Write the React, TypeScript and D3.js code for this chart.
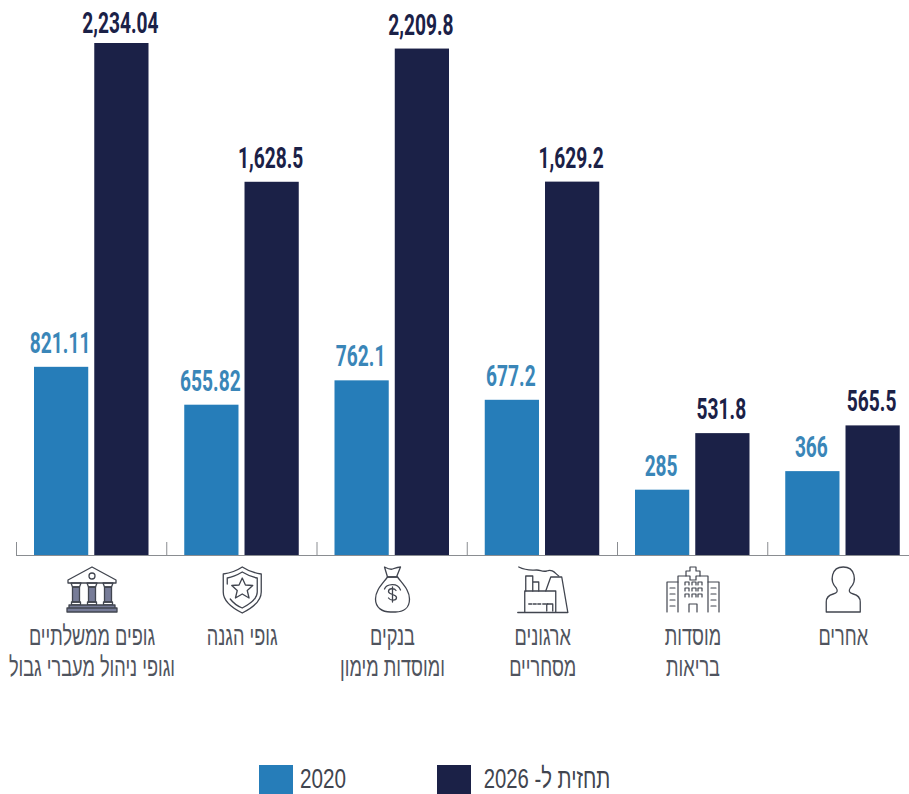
import React from "react";
import * as d3 from "d3";

const categories = ["gov", "defense", "banks", "commercial", "health", "others"];
const labelLines = [
  ["גופים ממשלתיים", "וגופי ניהול מעברי גבול"],
  ["גופי הגנה"],
  ["בנקים", "ומוסדות מימון"],
  ["ארגונים", "מסחריים"],
  ["מוסדות", "בריאות"],
  ["אחרים"],
];
const values2020 = [821.11, 655.82, 762.1, 677.2, 285, 366];
const labels2020 = ["821.11", "655.82", "762.1", "677.2", "285", "366"];
const values2026 = [2234.04, 1628.5, 2209.8, 1629.2, 531.8, 565.5];
const labels2026 = ["2,234.04", "1,628.5", "2,209.8", "1,629.2", "531.8", "565.5"];
const series = ["2020", "2026"];
const legendLabels = ["2020", "תחזית ל- 2026"];

const BLUE = "#267db9";
const NAVY = "#1b2147";
const BLUE_TEXT = "#3a86b8";
const GREY = "#41454f";
const TEXT_GREY = "#50545e";
const ICON_FILL = "#777c98";

const x0 = d3.scaleBand<string>().domain(categories).range([16.5, 918]);
const x1 = d3.scaleBand<string>().domain(series).range([17.5, 132]).paddingInner(0.1);
const y = d3.scaleLinear().domain([0, 2234.04]).range([555, 43]);

const numStyle = { fontFamily: "Roboto, sans-serif", fontWeight: 700, fontSize: 29.5 };
const hebStyle = { fontFamily: "'Liberation Sans', sans-serif", fontWeight: 400, fontSize: 27.5 };

function Sq({ x, y: yy, sx, anchor = "middle", fill, style, children, rtl }: any) {
  return (
    <text
      transform={`translate(${x},${yy}) scale(${sx},1)`}
      textAnchor={anchor}
      fill={fill}
      style={{ ...style, direction: rtl ? "rtl" : "ltr" }}
    >
      {children}
    </text>
  );
}

const iconStroke = { fill: "none", stroke: GREY, strokeWidth: 1.3, strokeLinejoin: "round" as const, strokeLinecap: "round" as const };

function Bank() {
  return (
    <g {...iconStroke}>
      <path d="M0,-23 L24,-10 L24,-7 L-24,-7 L-24,-10 Z" />
      <circle cx={0} cy={-14} r={3} />
      {[-16, 0, 16].map((c) => (
        <path key={c} d={`M${c - 3.5},-3 H${c + 3.5} V12 H${c - 3.5} Z`} fill={ICON_FILL} />
      ))}
      {[-16, 0, 16].map((c) => (
        <path key={c} d={`M${c - 5},-7 H${c + 5} L${c + 3.5},-3 H${c - 3.5} Z M${c - 4.5},12 H${c + 4.5} V15 H${c - 4.5} Z`} />
      ))}
      <path d="M-23,15 H23 V18 H-23 Z M-25,18 H25 V22 H-25 Z" fill={ICON_FILL} />
    </g>
  );
}

function Shield() {
  return (
    <g {...iconStroke}>
      <path d="M0,-23 C6,-19 12,-17 19,-16 V2 C19,11 10,18 0,23 C-10,18 -19,11 -19,2 V-16 C-12,-17 -6,-19 0,-23 Z" />
      <path d="M-15,-6 V-12 C-9,-13 -5,-15 0,-18 C5,-15 9,-13 15,-12 V2 C15,8 8,14 0,18 C-5,16 -9,13 -12,9" />
      <path d="M0,-12 L3.2,-5 L10.5,-4.5 L5,0.5 L6.8,8 L0,4 L-6.8,8 L-5,0.5 L-10.5,-4.5 L-3.2,-5 Z" />
    </g>
  );
}

function Bag() {
  return (
    <g {...iconStroke}>
      <path d="M-8,-23 C-4,-21 -2,-20 0,-21 C3,-22 6,-23 8,-23 L4,-13 H-5 Z" />
      <path d="M-5,-13 C-10,-6 -17,0 -17,9 C-17,18 -10,22 -2,22 H3 C11,22 17,18 17,9 C17,0 10,-6 5,-13" />
      <path d="M-5,-13 H5" />
      <path d="M3.5,0.5 C2,-2 -4,-2 -4,1.5 C-4,5 4,4 4,7.5 C4,11 -2,11 -4,8 M0,-3 V12" />
      <path d="M-8,-1 C-6,-6 5,-8 8,0" />
    </g>
  );
}

function Factory() {
  return (
    <g {...iconStroke}>
      <path d="M-25,22.5 H25" />
      <path d="M-18,22 V1 H13 V22" />
      <path d="M-17,1 V-14 H-10 V1 M-10,-8 H-4 V1" />
      <path d="M3,1 L8,-13 H19 L25,22" />
      <path d="M-24,-23 C-16,-19 -12,-20 -6,-20 C-2,-20 -1,-18 4,-19 C10,-21 12,-17 16,-14" />
      <path d="M-14,14 H-2 M0,14 H5" strokeDasharray="3 1.5" />
      <path d="M4,21 V14 H10 V21" />
    </g>
  );
}

function Hospital() {
  const winX = [-8, -1, 5];
  const winY = [-8, -2, 4];
  return (
    <g {...iconStroke} strokeWidth={1.2}>
      <path d="M-3,-23 H3 V-19 H7 V-14 H3 V-10 H-3 V-14 H-7 V-19 H-3 Z" />
      <path d="M-7,-14 H-15 V22 M7,-14 H15 V22" />
      <path d="M-15,-8 H-26 V22 M15,-8 H26 V22" />
      {winY.map((wy) => winX.map((wx) => <path key={`${wx}${wy}`} d={`M${wx},${wy + 3} V${wy} H${wx + 4} V${wy + 3}`} />))}
      <path d="M-4,22 V14 H4 V22" />
      {[-2, 4, 10, 16].map((wy) => (
        <path key={wy} d={`M-23,${wy} H-18 M18,${wy} H23`} />
      ))}
    </g>
  );
}

function Person() {
  return (
    <g {...iconStroke}>
      <path d="M-7,-2 C-14,-9 -12,-23 0,-23 C12,-23 14,-9 7,-2 C5,1 6,3 10,4 C14,5 17,8 17,12 V22 H-17 V12 C-17,8 -14,5 -10,4 C-6,3 -5,1 -7,-2 Z" />
    </g>
  );
}

const icons = [Bank, Shield, Bag, Factory, Hospital, Person];
const ticks = categories.map((c) => x0(c) as number);

export default function App() {
  return (
    <svg
      width={909}
      height={794}
      viewBox="0 0 909 794"
      style={{ position: "absolute", left: 0, top: 0, background: "#fff", display: "block" }}
    >
      <path d={`M16,555.5 H909`} stroke="#8a8d91" strokeWidth={1} fill="none" />
      {ticks.map((t) => (
        <line key={t} x1={t} x2={t} y1={542} y2={555} stroke="#8a8d91" strokeWidth={1} />
      ))}
      {categories.map((c, i) => {
        const bx = x0(c) as number;
        const a = bx + (x1("2020") as number);
        const b = bx + (x1("2026") as number);
        const w = x1.bandwidth();
        const Icon = icons[i];
        const cx = bx + 75.5;
        return (
          <g key={c}>
            <rect x={a} y={y(values2020[i])} width={w} height={y(0) - y(values2020[i])} fill={BLUE} />
            <rect x={b} y={y(values2026[i])} width={w} height={y(0) - y(values2026[i])} fill={NAVY} />
            <Sq x={a + w / 2 - 1} y={Math.min(y(values2020[i]) - 14, 480)} sx={0.65} fill={BLUE_TEXT} style={numStyle}>
              {labels2020[i]}
            </Sq>
            <Sq x={b + w / 2 - 1} y={Math.max(33, y(values2026[i]) - 14)} sx={0.65} fill={NAVY} style={numStyle}>
              {labels2026[i]}
            </Sq>
            <g transform={`translate(${cx},590)`}>
              <Icon />
            </g>
            {labelLines[i].map((l, j) => (
              <Sq key={j} x={cx} y={645 + j * 31} sx={0.66} fill={TEXT_GREY} style={hebStyle} rtl>
                {l}
              </Sq>
            ))}
          </g>
        );
      })}
      <rect x={259} y={765} width={34} height={29} fill={BLUE} />
      <Sq x={300} y={788} sx={0.74} anchor="start" fill={GREY} style={{ ...hebStyle, fontSize: 28 }}>
        {legendLabels[0]}
      </Sq>
      <rect x={437} y={765} width={34} height={29} fill={NAVY} />
      <Sq x={547} y={788} sx={0.725} fill={GREY} style={{ ...hebStyle, fontSize: 28 }} rtl>
        {legendLabels[1]}
      </Sq>
    </svg>
  );
}
